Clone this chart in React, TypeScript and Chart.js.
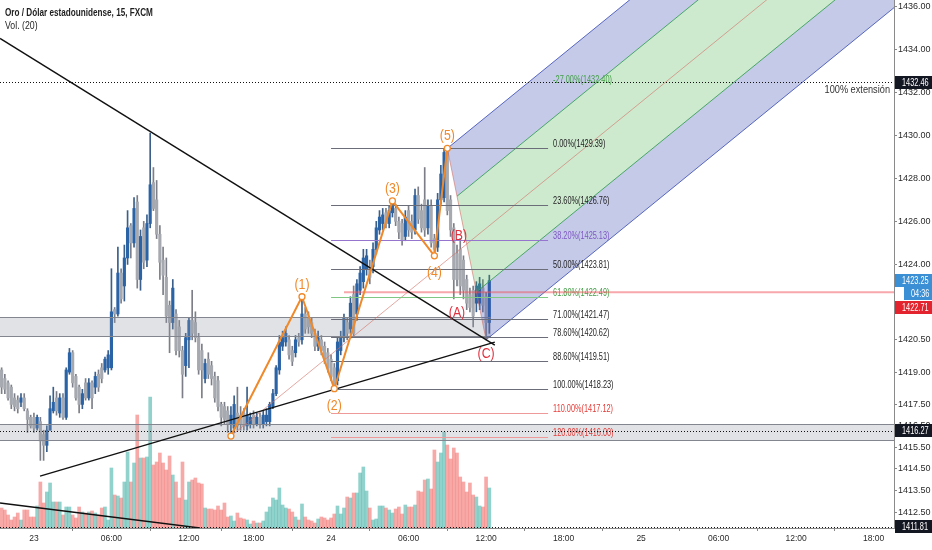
import React, { useEffect, useRef } from "react";
import { Chart, registerables } from "chart.js";

Chart.register(...registerables);

// ---------- candles (15 min bars, index 0 = first visible bar) ----------
const OPEN = [
  1419.1, 1418.7, 1418.5, 1418.3, 1417.8, 1417.7, 1417.6, 1417.8, 1417.2, 1416.9,
  1416.9, 1416.4, 1416.7, 1416.1, 1415.6, 1416.3, 1417.2, 1417.8, 1417.1, 1417.8,
  1416.9, 1419.0, 1419.9, 1418.8, 1418.3, 1417.5, 1418.5, 1417.8, 1418.5, 1418.3,
  1418.9, 1419.2, 1419.1, 1419.2, 1419.2, 1421.9, 1421.7, 1423.6, 1423.0, 1424.3,
  1425.8, 1425.0, 1426.9, 1423.3, 1425.7, 1424.2, 1425.9, 1427.8, 1427.0, 1425.4,
  1424.2, 1423.4, 1422.1, 1421.3, 1421.7, 1421.1, 1420.0, 1419.3, 1420.5, 1421.4,
  1421.3, 1420.6, 1420.0, 1418.7, 1419.6, 1419.3, 1418.8, 1418.6, 1417.5, 1417.4,
  1417.2, 1416.6, 1416.4, 1417.1, 1417.0, 1417.1, 1416.5, 1416.6, 1417.0, 1416.6,
  1416.9, 1416.6, 1416.7, 1416.7, 1417.4, 1418.0, 1419.1, 1420.2, 1420.4, 1420.5,
  1420.0, 1419.9, 1420.6, 1420.5, 1421.7, 1421.5, 1421.3, 1420.8, 1420.2, 1420.5,
  1420.2, 1419.9, 1419.6, 1419.2, 1418.6, 1420.0, 1420.6, 1421.3, 1421.0, 1422.6,
  1421.7, 1422.8, 1423.2, 1423.8, 1423.9, 1423.9, 1424.7, 1425.6, 1425.9, 1426.4,
  1425.9, 1426.4, 1426.6, 1426.0, 1425.9, 1425.3, 1426.5, 1426.0, 1425.6, 1427.2,
  1426.5, 1427.0, 1425.7, 1426.7, 1425.2, 1424.8, 1427.0, 1427.1, 1429.2, 1427.0,
  1425.7, 1424.5, 1424.7, 1424.2, 1423.3, 1422.6, 1422.8, 1422.2, 1422.2, 1422.9,
  1422.5, 1421.3,
];
const HIGH = [
  1419.2, 1418.9, 1418.6, 1418.4, 1418.0, 1417.9, 1418.0, 1418.0, 1417.3, 1417.0,
  1417.1, 1417.0, 1416.9, 1416.3, 1416.5, 1417.9, 1418.3, 1418.1, 1418.0, 1418.0,
  1419.2, 1420.1, 1420.0, 1418.9, 1418.4, 1418.2, 1418.7, 1418.7, 1418.6, 1419.0,
  1419.1, 1419.4, 1419.7, 1420.0, 1423.8, 1422.0, 1424.8, 1423.8, 1424.9, 1426.5,
  1425.9, 1427.1, 1427.2, 1425.6, 1426.0, 1426.3, 1430.1, 1428.5, 1427.9, 1425.8,
  1424.8, 1424.3, 1422.3, 1423.3, 1421.9, 1421.4, 1420.2, 1420.8, 1421.5, 1422.8,
  1421.8, 1420.8, 1420.3, 1419.6, 1419.9, 1419.5, 1419.0, 1418.8, 1417.6, 1417.6,
  1417.4, 1417.4, 1417.9, 1418.3, 1417.4, 1417.3, 1418.3, 1417.1, 1417.2, 1417.1,
  1417.1, 1417.2, 1417.3, 1417.6, 1418.2, 1419.3, 1420.7, 1420.9, 1421.1, 1420.7,
  1420.2, 1420.7, 1420.8, 1422.5, 1422.0, 1421.8, 1421.5, 1421.0, 1420.9, 1420.7,
  1420.4, 1420.1, 1419.8, 1419.4, 1420.6, 1420.9, 1421.7, 1421.5, 1422.5, 1423.0,
  1423.3, 1423.9, 1424.7, 1424.7, 1424.2, 1425.0, 1426.0, 1426.5, 1426.6, 1426.6,
  1426.7, 1426.95, 1426.8, 1426.2, 1426.1, 1426.5, 1426.7, 1426.3, 1427.5, 1427.6,
  1426.8, 1428.5, 1427.0, 1427.0, 1425.4, 1427.3, 1428.6, 1429.39, 1429.3, 1427.2,
  1425.9, 1424.9, 1425.2, 1424.4, 1423.5, 1422.9, 1423.0, 1423.2, 1423.4, 1423.3,
  1422.7, 1423.5,
];
const LOW = [
  1418.0, 1418.0, 1417.7, 1417.3, 1417.2, 1417.1, 1417.4, 1417.2, 1416.2, 1416.4,
  1416.2, 1416.3, 1414.9, 1414.9, 1415.3, 1416.3, 1417.1, 1417.0, 1416.9, 1416.8,
  1416.8, 1418.9, 1418.3, 1417.7, 1417.1, 1417.3, 1417.7, 1417.7, 1417.3, 1418.0,
  1418.1, 1418.5, 1419.0, 1418.9, 1419.1, 1421.3, 1421.6, 1422.2, 1422.3, 1424.0,
  1424.3, 1424.8, 1422.9, 1422.8, 1423.8, 1423.9, 1425.7, 1426.5, 1425.2, 1423.3,
  1422.6, 1421.3, 1419.9, 1421.0, 1419.8, 1419.7, 1417.8, 1418.8, 1419.2, 1420.5,
  1420.4, 1418.9, 1417.8, 1418.5, 1418.7, 1418.4, 1417.6, 1417.2, 1416.5, 1416.6,
  1416.2, 1416.0, 1416.2, 1416.3, 1416.3, 1416.3, 1416.3, 1416.4, 1416.4, 1416.5,
  1416.4, 1416.4, 1416.5, 1416.5, 1417.3, 1417.9, 1418.9, 1420.0, 1420.2, 1419.6,
  1419.3, 1419.7, 1420.2, 1420.3, 1420.8, 1420.8, 1420.6, 1420.0, 1420.0, 1419.8,
  1419.4, 1419.0, 1418.6, 1418.23, 1418.4, 1419.8, 1420.4, 1420.5, 1420.8, 1420.6,
  1421.4, 1422.6, 1422.9, 1423.5, 1423.1, 1423.6, 1424.5, 1425.4, 1425.6, 1425.7,
  1425.7, 1426.2, 1425.8, 1425.2, 1424.9, 1425.1, 1425.3, 1425.2, 1425.4, 1425.9,
  1425.5, 1425.3, 1425.4, 1424.8, 1424.4, 1424.6, 1426.8, 1426.9, 1426.3, 1425.3,
  1422.4, 1423.0, 1422.6, 1422.4, 1421.9, 1421.8, 1421.1, 1421.8, 1421.9, 1421.8,
  1420.5, 1420.8,
];
const CLOSE = [
  1418.3, 1418.2, 1417.8, 1417.5, 1417.4, 1417.3, 1417.8, 1417.3, 1416.8, 1416.5,
  1416.4, 1416.9, 1415.8, 1415.6, 1416.3, 1417.3, 1417.6, 1417.2, 1417.8, 1416.9,
  1419.1, 1419.9, 1418.5, 1417.8, 1417.5, 1418.0, 1417.8, 1418.5, 1417.8, 1418.8,
  1418.3, 1418.7, 1419.6, 1419.8, 1421.8, 1421.7, 1423.6, 1422.4, 1424.3, 1425.7,
  1425.0, 1426.6, 1423.3, 1425.3, 1424.1, 1425.9, 1427.7, 1426.6, 1425.4, 1424.1,
  1423.5, 1421.6, 1421.3, 1422.9, 1420.0, 1420.0, 1418.9, 1420.6, 1421.4, 1420.8,
  1420.6, 1419.1, 1419.1, 1419.4, 1418.9, 1418.7, 1417.8, 1417.4, 1416.9, 1416.8,
  1416.6, 1417.0, 1417.5, 1416.5, 1416.6, 1416.5, 1417.0, 1416.9, 1416.6, 1416.9,
  1416.6, 1417.0, 1417.0, 1417.5, 1418.0, 1419.2, 1420.4, 1420.6, 1420.8, 1419.8,
  1419.5, 1420.5, 1420.4, 1421.7, 1421.0, 1421.1, 1420.8, 1420.2, 1420.6, 1420.0,
  1419.6, 1419.2, 1418.8, 1418.4, 1420.4, 1420.6, 1421.5, 1420.8, 1422.2, 1420.8,
  1423.1, 1423.6, 1424.3, 1424.4, 1423.4, 1424.7, 1425.7, 1426.2, 1426.3, 1425.9,
  1426.5, 1426.9, 1426.0, 1425.5, 1425.1, 1426.2, 1425.6, 1425.5, 1427.2, 1426.1,
  1425.7, 1425.6, 1426.7, 1425.0, 1424.7, 1427.0, 1428.2, 1429.2, 1426.5, 1425.6,
  1423.3, 1423.3, 1423.0, 1422.8, 1422.2, 1422.0, 1421.6, 1423.0, 1423.1, 1422.1,
  1421.3, 1423.25,
];
const VOLUME = [
  20, 18, 13, 8, 11, 15, 8, 18, 18, 11,
  11, 22, 46, 25, 36, 45, 26, 26, 26, 13,
  21, 21, 13, 10, 21, 16, 15, 16, 17, 15,
  13, 20, 21, 8, 60, 33, 32, 30, 46, 76,
  46, 65, 113, 70, 70, 71, 131, 63, 66, 75,
  65, 58, 72, 53, 46, 30, 66, 28, 46, 48,
  50, 45, 44, 20, 19, 19, 18, 22, 18, 25,
  11, 12, 7, 15, 10, 9, 8, 4, 7, 5,
  5, 7, 16, 21, 30, 28, 40, 23, 20, 19,
  16, 11, 8, 24, 11, 8, 7, 5, 9, 11,
  10, 8, 10, 14, 22, 14, 20, 31, 30, 35,
  35, 55, 61, 37, 20, 8, 9, 22, 22, 20,
  18, 15, 19, 21, 14, 23, 21, 21, 23, 37,
  36, 48, 49, 39, 78, 66, 75, 96, 83, 69,
  80, 75, 51, 46, 36, 45, 33, 31, 22, 21,
  51, 40,
];
const VOL_AXIS_MAX = 528;

// ---------- axes ----------
const X_MIN = -0.5;
const X_MAX = 276.3;
const Y_MIN = 1411.76;
const Y_MAX = 1436.28;
const TIME_TICK_IDX = [10, 34, 58, 78, 102, 126, 150, 174, 198, 222, 246, 270];
const TIME_TICK_LABELS = ["23", "06:00", "12:00", "18:00", "24", "06:00", "12:00", "18:00", "25", "06:00", "12:00", "18:00"];
const PRICE_TICKS = [1436, 1434, 1432, 1430, 1428, 1426, 1424, 1422, 1420.5, 1419, 1417.5, 1416.5, 1415.5, 1414.5, 1413.5, 1412.5];

// ---------- drawings ----------
const ZONE_TOP = [1421.56, 1416.59];
const ZONE_BOTTOM = [1420.67, 1415.84];
const ZONE_START = [-0.5, -0.5];
const ZONE_END = [151.5, 276.3];

const DOTTED_PRICES = [1432.46, 1416.27, 1411.81];
const EXT_LABEL = "100% extensión";
const EXT_PRICE = 1432.46;

const RED_RAY_PRICE = 1422.71;
const RED_RAY_START = 106;

const FIB_LEVELS = [-0.27, 0, 0.236, 0.382, 0.5, 0.618, 0.71, 0.786, 0.886, 1, 1.1, 1.2];
const FIB_PRICES = [1432.4, 1429.39, 1426.76, 1425.13, 1423.81, 1422.49, 1421.47, 1420.62, 1419.51, 1418.23, 1417.12, 1416.0];
const FIB_START = 102;
const FIB_END = 169.2;

const WAVE_X = [71, 93, 103, 121, 134, 138];
const WAVE_P = [1416.03, 1422.5, 1418.23, 1426.95, 1424.4, 1429.39];
const WAVE_LABELS = ["", "(1)", "(2)", "(3)", "(4)", "(5)"];
const WAVE_UP = [false, true, false, true, false, true];

const ABC_LABELS = ["(A)", "(B)", "(C)"];
const ABC_X = [141, 141.6, 150];
const ABC_P = [1421.74, 1425.32, 1419.84];

const PF_X = [71, 138, 150];
const PF_P = [1416.03, 1429.39, 1420.5];

const TREND_X1 = [-0.5, 11.9, -0.5];
const TREND_P1 = [1434.5, 1414.17, 1412.92];
const TREND_X2 = [152.7, 152.7, 61.4];
const TREND_P2 = [1420.25, 1420.39, 1411.76];

const TITLE = "Oro / Dólar estadounidense, 15, FXCM";
const SUBTITLE = "Vol. (20)";
const LAST_PRICE = 1423.25;
const COUNTDOWN = "04:36";
const RED_LABEL_PRICE = 1422.71;
const BLACK_LABEL_PRICES = [1432.46, 1416.27, 1411.81];

const FAM = '"Liberation Sans", Arial, sans-serif';

export default function App() {
  const ref = useRef<HTMLCanvasElement>(null);

  useEffect(() => {
    if (!ref.current) return;

    const up = OPEN.map((o, i) => CLOSE[i] >= o);
    const wickData = OPEN.map((_, i) => ({ x: i, y: [LOW[i], HIGH[i]] }));
    const bodyData = OPEN.map((o, i) => {
      const lo = Math.min(o, CLOSE[i]);
      let hi = Math.max(o, CLOSE[i]);
      if (hi - lo < 0.05) hi = lo + 0.05;
      return { x: i, y: [lo, hi] };
    });
    const volData = VOLUME.map((v, i) => ({ x: i, y: v }));

    // narrow text helper (horizontal compression)
    const ntext = (ctx: any, s: string, x: number, y: number, hs: number, align: string) => {
      ctx.save();
      ctx.translate(x, y);
      ctx.scale(hs, 1);
      ctx.textAlign = align;
      ctx.fillText(s, 0, 0);
      ctx.restore();
    };

    const drawings = {
      id: "drawings",
      afterDatasetsDraw(chart: any) {
        const { ctx, chartArea: a, scales } = chart;
        const xs = scales.x;
        const ys = scales.y;
        const X = (v: number) => xs.getPixelForValue(v);
        const Y = (v: number) => ys.getPixelForValue(v);
        ctx.save();
        ctx.beginPath();
        ctx.rect(a.left, a.top, a.right - a.left, a.bottom - a.top);
        ctx.clip();

        // gray zones
        for (let i = 0; i < ZONE_TOP.length; i++) {
          const x1 = X(ZONE_START[i]);
          const x2 = X(ZONE_END[i]);
          const y1 = Math.round(Y(ZONE_TOP[i])) + 0.5;
          const y2 = Math.round(Y(ZONE_BOTTOM[i])) + 0.5;
          ctx.fillStyle = "rgba(149,152,161,0.28)";
          ctx.fillRect(x1, y1, x2 - x1, y2 - y1);
          ctx.strokeStyle = "#83868f";
          ctx.lineWidth = 1;
          ctx.beginPath();
          ctx.moveTo(x1, y1);
          ctx.lineTo(x2, y1);
          ctx.moveTo(x1, y2);
          ctx.lineTo(x2, y2);
          ctx.stroke();
        }

        // pitchfork
        const P1 = { x: X(PF_X[0]), y: Y(PF_P[0]) };
        const P2 = { x: X(PF_X[1]), y: Y(PF_P[1]) };
        const P3 = { x: X(PF_X[2]), y: Y(PF_P[2]) };
        const M = { x: (P2.x + P3.x) / 2, y: (P2.y + P3.y) / 2 };
        const d = { x: M.x - P1.x, y: M.y - P1.y };
        const K = 6;
        const H = (s: number) => ({ x: M.x + s * (P2.x - M.x), y: M.y + s * (P2.y - M.y) });
        const band = (s1: number, s2: number, color: string) => {
          const a1 = H(s1);
          const a2 = H(s2);
          ctx.fillStyle = color;
          ctx.beginPath();
          ctx.moveTo(a1.x, a1.y);
          ctx.lineTo(a2.x, a2.y);
          ctx.lineTo(a2.x + K * d.x, a2.y + K * d.y);
          ctx.lineTo(a1.x + K * d.x, a1.y + K * d.y);
          ctx.closePath();
          ctx.fill();
        };
        const blue = "rgba(63,81,181,0.3)";
        const green = "rgba(76,175,80,0.28)";
        band(0.5, 1, blue);
        band(0, 0.5, green);
        band(-0.5, 0, green);
        band(-1, -0.5, blue);
        const ray = (s: number, color: string) => {
          const p = H(s);
          ctx.strokeStyle = color;
          ctx.lineWidth = 1;
          ctx.beginPath();
          ctx.moveTo(p.x, p.y);
          ctx.lineTo(p.x + K * d.x, p.y + K * d.y);
          ctx.stroke();
        };
        ray(1, "rgba(63,81,181,0.85)");
        ray(-1, "rgba(63,81,181,0.85)");
        ray(0.5, "rgba(56,160,90,0.9)");
        ray(-0.5, "rgba(56,160,90,0.9)");
        ctx.strokeStyle = "rgba(210,110,100,0.6)";
        ctx.lineWidth = 1;
        ctx.beginPath();
        ctx.moveTo(P1.x, P1.y);
        ctx.lineTo(P1.x + (K + 1) * d.x, P1.y + (K + 1) * d.y);
        ctx.moveTo(P2.x, P2.y);
        ctx.lineTo(P3.x, P3.y);
        ctx.stroke();

        // fib retracement
        const fibLine = ["#66bb6a", "#6b6e78", "#6b6e78", "#9575cd", "#6b6e78", "#81c784", "#6b6e78", "#6b6e78", "#6b6e78", "#6b6e78", "#ef9a9a", "#ef9a9a"];
        const fibText = ["#43a047", "#1e1e1e", "#1e1e1e", "#7e57c2", "#1e1e1e", "#43a047", "#1e1e1e", "#1e1e1e", "#1e1e1e", "#1e1e1e", "#e53935", "#e53935"];
        const fx1 = X(FIB_START);
        const fx2 = X(FIB_END);
        ctx.font = `10.5px ${FAM}`;
        ctx.textBaseline = "middle";
        for (let i = 0; i < FIB_LEVELS.length; i++) {
          const y = Math.round(Y(FIB_PRICES[i])) + 0.5;
          if (FIB_LEVELS[i] !== -0.27) {
            ctx.strokeStyle = fibLine[i];
            ctx.lineWidth = 1;
            ctx.beginPath();
            ctx.moveTo(fx1, y);
            ctx.lineTo(fx2, y);
            ctx.stroke();
          }
          ctx.fillStyle = fibText[i];
          const txt = `${(FIB_LEVELS[i] * 100).toFixed(2)}%(${FIB_PRICES[i].toFixed(2)})`;
          ntext(ctx, txt, fx2 + 5, y - 4, 0.7, "left");
        }

        // red horizontal ray
        ctx.strokeStyle = "rgba(242,80,90,0.5)";
        ctx.lineWidth = 2;
        ctx.beginPath();
        ctx.moveTo(X(RED_RAY_START), Y(RED_RAY_PRICE));
        ctx.lineTo(a.right, Y(RED_RAY_PRICE));
        ctx.stroke();

        // dotted horizontal lines
        ctx.strokeStyle = "#111";
        ctx.lineWidth = 1;
        ctx.setLineDash([1, 2]);
        for (const p of DOTTED_PRICES) {
          const y = Math.min(Math.round(Y(p)) + 0.5, a.bottom - 0.5);
          ctx.beginPath();
          ctx.moveTo(a.left, y);
          ctx.lineTo(a.right, y);
          ctx.stroke();
        }
        ctx.setLineDash([]);

        // trend lines
        ctx.strokeStyle = "#111";
        ctx.lineWidth = 1.4;
        for (let i = 0; i < TREND_X1.length; i++) {
          ctx.beginPath();
          ctx.moveTo(X(TREND_X1[i]), Y(TREND_P1[i]));
          ctx.lineTo(X(TREND_X2[i]), Y(TREND_P2[i]));
          ctx.stroke();
        }

        // elliott impulse wave
        ctx.strokeStyle = "#f0892a";
        ctx.lineWidth = 2;
        ctx.lineJoin = "round";
        ctx.beginPath();
        WAVE_X.forEach((wx, i) => {
          const px = X(wx);
          const py = Y(WAVE_P[i]);
          if (i === 0) ctx.moveTo(px, py);
          else ctx.lineTo(px, py);
        });
        ctx.stroke();
        ctx.lineWidth = 1.3;
        WAVE_X.forEach((wx, i) => {
          ctx.beginPath();
          ctx.arc(X(wx), Y(WAVE_P[i]), 3, 0, Math.PI * 2);
          ctx.fillStyle = "#fff";
          ctx.fill();
          ctx.stroke();
        });
        ctx.font = `14px ${FAM}`;
        ctx.textAlign = "center";
        ctx.textBaseline = "middle";
        ctx.fillStyle = "#f0892a";
        WAVE_X.forEach((wx, i) => {
          if (!WAVE_LABELS[i]) return;
          const py = Y(WAVE_P[i]) + (WAVE_UP[i] ? -12 : 17);
          ntext(ctx, WAVE_LABELS[i], X(wx), py, 0.88, "center");
        });
        ctx.fillStyle = "#e0313f";
        ABC_LABELS.forEach((t, i) => ntext(ctx, t, X(ABC_X[i]), Y(ABC_P[i]), 0.88, "center"));

        // extension label
        ctx.fillStyle = "#333";
        ctx.font = `10px ${FAM}`;
        ntext(ctx, EXT_LABEL, a.right - 4, Y(EXT_PRICE) + 8, 0.92, "right");

        ctx.restore();
      },
      afterDraw(chart: any) {
        const { ctx, chartArea: a, scales } = chart;
        const Y = (v: number) => scales.y.getPixelForValue(v);
        ctx.save();
        // title
        ctx.fillStyle = "#1e1e1e";
        ctx.textBaseline = "alphabetic";
        ctx.font = `bold 11.5px ${FAM}`;
        ntext(ctx, TITLE, 5, 16, 0.71, "left");
        ctx.font = `11.5px ${FAM}`;
        ntext(ctx, SUBTITLE, 5, 29, 0.76, "left");

        // price labels on axis
        const box = (y: number, text: string, bg: string, x0: number) => {
          const top = Math.round(y - 6.5);
          ctx.fillStyle = bg;
          ctx.fillRect(x0, top, chart.width - x0, 13);
          ctx.fillStyle = "#fff";
          ctx.font = `10.5px ${FAM}`;
          ctx.textBaseline = "middle";
          ntext(ctx, text, x0 + 7, top + 7, 0.7, "left");
        };
        for (const p of BLACK_LABEL_PRICES) box(Math.min(Y(p), a.bottom), p.toFixed(2), "#131722", a.right + 1);
        const yl = Y(LAST_PRICE);
        box(yl, LAST_PRICE.toFixed(2), "#3a8fd5", a.right + 1);
        box(yl + 13, COUNTDOWN, "#3a8fd5", a.right + 10);
        box(yl + 27, RED_LABEL_PRICE.toFixed(2), "#e3242f", a.right + 1);
        ctx.restore();
      },
    };

    const chart = new Chart(ref.current, {
      type: "bar",
      data: {
        datasets: [
          {
            label: "body",
            data: bodyData as any,
            backgroundColor: up.map((u) => (u ? "#2a63a6" : "#a6a9b0")),
            borderWidth: 0,
            barThickness: 2.5,
            grouped: false,
            order: 1,
            yAxisID: "y",
          } as any,
          {
            label: "wick",
            data: wickData as any,
            backgroundColor: up.map((u) => (u ? "#3a5f8a" : "#7c7f88")),
            borderWidth: 0,
            barThickness: 1,
            grouped: false,
            order: 2,
            yAxisID: "y",
          } as any,
          {
            label: "volume",
            data: volData as any,
            backgroundColor: up.map((u) => (u ? "rgba(38,166,154,0.5)" : "rgba(239,83,80,0.5)")),
            borderWidth: 0,
            barThickness: 3,
            grouped: false,
            order: 3,
            yAxisID: "vol",
          } as any,
        ],
      },
      options: {
        animation: false,
        responsive: true,
        maintainAspectRatio: false,
        events: [],
        layout: { padding: 0 },
        plugins: { legend: { display: false }, tooltip: { enabled: false } },
        scales: {
          x: {
            type: "linear",
            min: X_MIN,
            max: X_MAX,
            offset: false,
            afterBuildTicks: (s: any) => {
              s.ticks = TIME_TICK_IDX.map((v) => ({ value: v }));
            },
            afterFit: (s: any) => {
              s.height = 22;
              s.paddingLeft = 0;
              s.paddingRight = 0;
            },
            ticks: {
              autoSkip: false,
              maxRotation: 0,
              color: "#2a2a2a",
              padding: 3,
              font: { family: FAM, size: 8.5 },
              callback: (v: any) => {
                const j = TIME_TICK_IDX.indexOf(Number(v));
                return j >= 0 ? TIME_TICK_LABELS[j] : "";
              },
            },
            grid: { display: true, drawOnChartArea: false, drawTicks: true, tickLength: 3, color: "#888" },
            border: { display: true, color: "#8a8a8a", width: 1 },
          },
          y: {
            type: "linear",
            position: "right",
            min: Y_MIN,
            max: Y_MAX,
            afterBuildTicks: (s: any) => {
              s.ticks = PRICE_TICKS.map((v) => ({ value: v }));
            },
            afterFit: (s: any) => {
              s.width = 38;
              s.paddingTop = 0;
              s.paddingBottom = 0;
            },
            ticks: {
              color: "#2a2a2a",
              padding: 1,
              font: { family: FAM, size: 9 },
              callback: (v: any) => Number(v).toFixed(2),
            },
            grid: { display: true, drawOnChartArea: false, drawTicks: true, tickLength: 3, color: "#888" },
            border: { display: true, color: "#8a8a8a", width: 1 },
          },
          vol: { type: "linear", display: false, min: 0, max: VOL_AXIS_MAX },
        },
      } as any,
      plugins: [drawings as any],
    });
    return () => chart.destroy();
  }, []);

  return (
    <div style={{ width: 932, height: 550, position: "relative", background: "#fff" }}>
      <style>{"body{margin:0;background:#fff}"}</style>
      <canvas ref={ref} style={{ display: "block" }} />
    </div>
  );
}
